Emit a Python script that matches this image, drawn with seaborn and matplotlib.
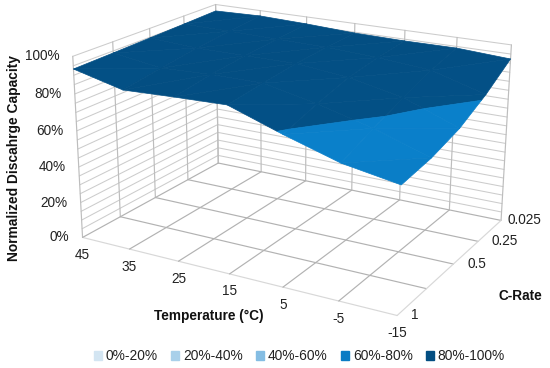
import numpy as np
import matplotlib
matplotlib.use('Agg')
import matplotlib.pyplot as plt
from matplotlib.patches import Patch
from mpl_toolkits.mplot3d import proj3d
from mpl_toolkits.mplot3d.art3d import Poly3DCollection
import seaborn as sns

temperatures = ['45', '35', '25', '15', '5', '-5', '-15']
c_rates = ['1', '', '0.5', '0.25', '0.025']

# normalized capacity (%), one list per C-rate row, same order as temperatures
cap_1c = [93.3, 86.8, 87.9, 88.7, 79.0, 70.3, 65.4]
cap_blank = [93.9, 90.0, 91.0, 91.0, 85.0, 77.5, 68.0]
cap_05c = [94.6, 93.0, 93.0, 93.0, 90.0, 84.0, 73.0]
cap_025c = [95.3, 95.0, 94.5, 94.0, 92.5, 90.0, 81.5]
cap_0025c = [96.1, 96.8, 95.9, 94.5, 94.0, 94.1, 92.3]

z_ticks = [0, 20, 40, 60, 80, 100]
band_edges = [0, 20, 40, 60, 80, 100]
band_labels = ['0%-20%', '20%-40%', '40%-60%', '60%-80%', '80%-100%']
band_colors = ['#d3e5f2', '#a9d0ea', '#84bde3', '#0a7cc4', '#034e82']

# camera, calibrated against the floor and wall corners
ELEV, AZIM, ROLL, FOCAL = 19.0696, -60.5915, -0.1997, 0.5316
BOX = (1.245, 0.9006, 0.6723)
AX_LEFT, AX_BOTTOM, AX_SIZE = 61.2227, -8.1922, 456.59


def clip_band(tri, lo, hi):
    """Cut a triangle down to the part with lo <= z <= hi."""
    poly = [np.asarray(p, float) for p in tri]
    for level, sign in ((lo, 1), (hi, -1)):
        out = []
        for i, p in enumerate(poly):
            q = poly[(i + 1) % len(poly)]
            dp, dq = sign * (p[2] - level), sign * (q[2] - level)
            if dp >= 0:
                out.append(p)
            if dp * dq < 0:
                out.append(p + (q - p) * dp / (dp - dq))
        poly = out
        if not poly:
            break
    return poly


def shade(tri, color):
    """Small per-facet brightness change from the facet slope."""
    a, b, c = [np.asarray(p) * np.array([BOX[0] / 6, BOX[1] / 4, BOX[2] / 100]) for p in tri]
    n = np.cross(b - a, c - a)
    n = n / np.linalg.norm(n)
    if n[2] < 0:
        n = -n
    light = np.array([0.45, -0.3, 0.84])
    f = 1 + 0.22 * (n @ light - light[2])
    return np.clip(np.array(color) * f, 0, 1)


def main():
    sns.set_theme(style='white')
    plt.rcParams['font.family'] = ['Liberation Sans', 'DejaVu Sans']
    palette = sns.color_palette(band_colors)

    fig = plt.figure(figsize=(5.5, 3.68), dpi=100)
    ax = fig.add_axes([AX_LEFT / 550, AX_BOTTOM / 368, AX_SIZE / 550, AX_SIZE / 368], projection='3d')
    ax.computed_zorder = False
    ax.set_axis_off()

    nx, ny = len(temperatures), len(c_rates)
    rows = np.array([cap_1c, cap_blank, cap_05c, cap_025c, cap_0025c])

    # walls and floor
    wall = '#cccccc'
    vert = '#bdbdbd'
    floor = '#b2b2b2'
    edge = '#d8d8d8'
    for z in np.arange(5, 101, 5):
        ax.plot([0, 0], [0, ny - 1], [z, z], color=wall, lw=0.75, zorder=1)
        ax.plot([0, nx - 1], [ny - 1, ny - 1], [z, z], color=wall, lw=0.75, zorder=1)
    for j in range(ny):
        ax.plot([0, 0], [j, j], [0, 100], color=vert, lw=0.85, zorder=1)
        ax.plot([0, nx - 1], [j, j], [0, 0], color=edge if j == 0 else floor, lw=0.85, zorder=1)
    for i in range(nx):
        ax.plot([i, i], [ny - 1, ny - 1], [0, 100], color=vert, lw=0.85, zorder=1)
        ax.plot([i, i], [0, ny - 1], [0, 0], color=edge if i == nx - 1 else floor, lw=0.85, zorder=1)

    # surface, split at the band edges
    polys, colors = [], []
    for j in range(ny - 1):
        for i in range(nx - 1):
            p00 = (i, j, rows[j, i])
            p10 = (i + 1, j, rows[j, i + 1])
            p01 = (i, j + 1, rows[j + 1, i])
            p11 = (i + 1, j + 1, rows[j + 1, i + 1])
            for tri in ((p00, p10, p11), (p00, p11, p01)):
                for k in range(len(band_labels)):
                    poly = clip_band(tri, band_edges[k], band_edges[k + 1])
                    if len(poly) >= 3:
                        polys.append(poly)
                        colors.append(shade(tri, palette[k]))
    surf = Poly3DCollection(polys, facecolors=colors, edgecolors=colors, linewidths=0.5, zorder=3)
    ax.add_collection3d(surf)

    ax.set_xlim(0, nx - 1)
    ax.set_ylim(0, ny - 1)
    ax.set_zlim(0, 100)
    ax.view_init(elev=ELEV, azim=AZIM, roll=ROLL)
    ax.set_proj_type('persp', focal_length=FOCAL)
    ax.set_box_aspect(BOX)

    # tick labels sit next to the projected grid nodes
    M = ax.get_proj()

    def label(x, y, z, text, dx, dy, ha):
        u, v, _ = proj3d.proj_transform(x, y, z, M)
        ax.annotate(text, xy=(u, v), xytext=(dx, dy), textcoords='offset pixels', ha=ha, va='center',
                    fontsize=9.8, color='#222222', annotation_clip=False)

    for z in z_ticks:
        label(0, 0, z, f'{z}%', -13, 0, 'right')
    for i, t in enumerate(temperatures):
        label(i, 0, 0, t, 0, -17.5, 'center')
    c_dx = [18, 0, 24, 27, 23]
    for j, c in enumerate(c_rates):
        label(nx - 1, j, 0, c, c_dx[j], 0, 'center')

    fig.text(14 / 550, 1 - 158 / 368, 'Normalized Discahrge Capacity', rotation=90, ha='center', va='center',
             fontsize=9.9, fontweight='bold', color='#111111')
    fig.text(209 / 550, 1 - 316 / 368, 'Temperature (°C)', ha='center', va='center',
             fontsize=9.8, fontweight='bold', color='#111111')
    fig.text(520 / 550, 1 - 296 / 368, 'C-Rate', ha='center', va='center',
             fontsize=9.8, fontweight='bold', color='#111111')

    handles = [Patch(color=c, label=l) for c, l in zip(palette, band_labels)]
    fig.legend(handles=handles, ncol=5, loc='center', bbox_to_anchor=(299.5 / 550, 1 - 356.5 / 368), frameon=False,
               fontsize=9.9, handlelength=0.55, handleheight=0.55, handletextpad=0.3, columnspacing=0.98,
               borderpad=0, labelcolor='#222222')

    fig.savefig('out.png', dpi=100)
    plt.close(fig)


if __name__ == "__main__":
    main()
